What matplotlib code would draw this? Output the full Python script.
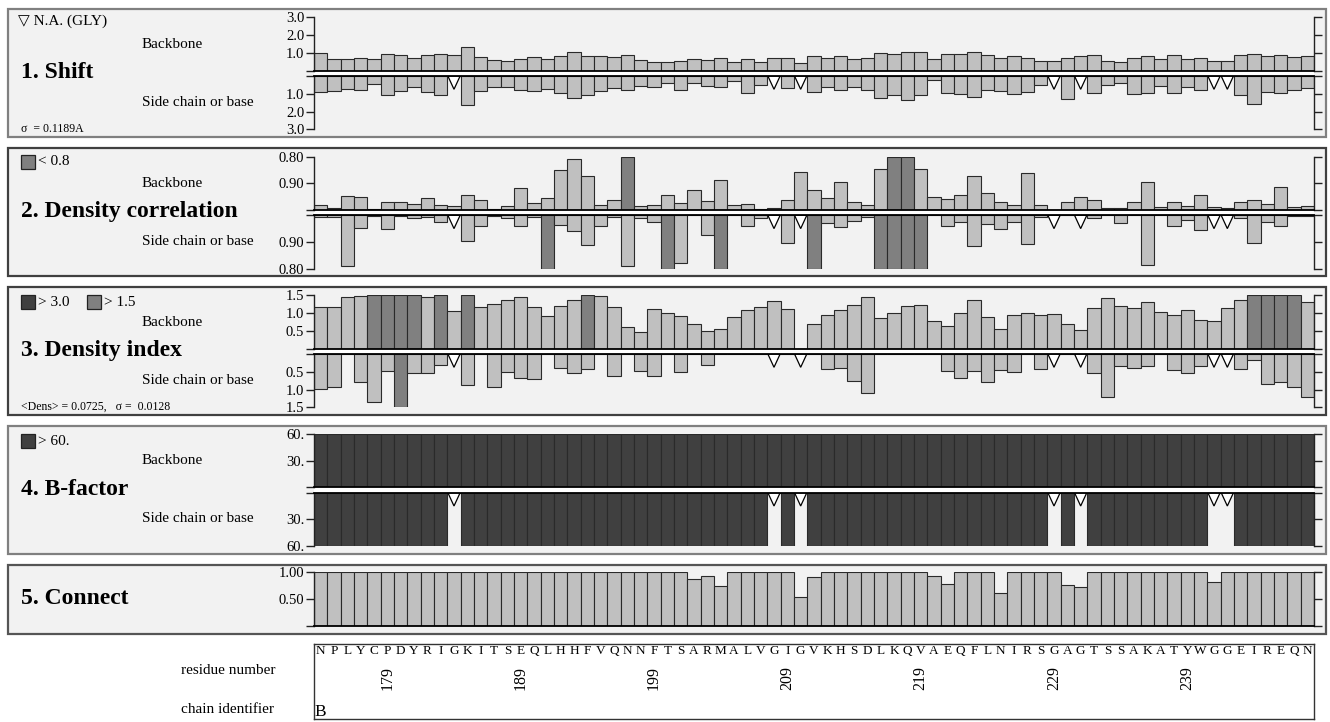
import matplotlib
matplotlib.use("Agg")
import matplotlib.pyplot as plt
from matplotlib.patches import Rectangle, Polygon

# ---------------- data ----------------
residues = list("NPLYCPDYRIGKITSEQLHHFVQNNFTSARMALVGIGVKHSDLKQVAEQFLNIRSGAGTSSAKATYWGGEIREQN")
first_resnum = 174
resnum_labels = [179, 189, 199, 209, 219, 229, 239]
chain_id = "B"

shift_bb = [1.00, 0.67, 0.63, 0.74, 0.67, 0.94, 0.89, 0.70, 0.91, 0.94,
            0.91, 1.31, 0.78, 0.61, 0.54, 0.63, 0.78, 0.65, 0.80, 1.07,
            0.85, 0.80, 0.76, 0.89, 0.61, 0.50, 0.50, 0.57, 0.67, 0.61,
            0.72, 0.50, 0.67, 0.50, 0.74, 0.72, 0.46, 0.80, 0.74, 0.80,
            0.63, 0.72, 1.02, 0.96, 1.07, 1.06, 0.65, 0.93, 0.96, 1.04,
            0.91, 0.74, 0.83, 0.72, 0.54, 0.57, 0.74, 0.85, 0.87, 0.56,
            0.48, 0.69, 0.85, 0.67, 0.87, 0.63, 0.69, 0.56, 0.52, 0.89,
            0.96, 0.80, 0.91, 0.76, 0.85]
shift_sc = [0.91, 0.85, 0.74, 0.81, 0.44, 1.07, 0.83, 0.61, 0.89, 1.07,
            None, 1.61, 0.87, 0.59, 0.63, 0.80, 0.83, 0.72, 0.96, 1.24,
            1.04, 0.83, 0.65, 0.80, 0.54, 0.59, 0.39, 0.80, 0.41, 0.56,
            0.61, 0.30, 0.96, 0.52, None, 0.69, None, 0.91, 0.59, 0.81,
            0.59, 0.80, 1.22, 1.06, 1.35, 1.07, 0.24, 0.94, 1.02, 1.17,
            0.80, 0.87, 1.02, 0.89, 0.50, None, 1.30, None, 0.94, 0.52,
            0.39, 1.02, 0.96, 0.56, 0.96, 0.61, 0.80, None, None, 1.06,
            1.57, 0.91, 0.98, 0.80, 0.69]

dens_corr_bb = [0.980, 0.994, 0.949, 0.953, 0.998, 0.969, 0.971, 0.979, 0.954, 0.982,
                0.986, 0.943, 0.961, 0.998, 0.985, 0.919, 0.975, 0.954, 0.850, 0.810,
                0.873, 0.980, 0.964, 0.760, 0.985, 0.980, 0.945, 0.973, 0.924, 0.966,
                0.889, 0.981, 0.976, 0.996, 0.991, 0.961, 0.859, 0.924, 0.956, 0.894,
                0.971, 0.981, 0.848, 0.770, 0.750, 0.845, 0.953, 0.960, 0.945, 0.871,
                0.938, 0.971, 0.981, 0.863, 0.983, 0.999, 0.969, 0.953, 0.964, 0.994,
                0.993, 0.969, 0.896, 0.990, 0.971, 0.986, 0.945, 0.988, 0.994, 0.971,
                0.964, 0.979, 0.915, 0.989, 0.985]
dens_corr_sc = [0.995, 0.994, 0.810, 0.953, 0.999, 0.949, 0.998, 0.990, 0.994, 0.974,
                None, 0.903, 0.960, 0.999, 0.990, 0.960, 0.994, 0.770, 0.964, 0.940,
                0.888, 0.960, 0.994, 0.809, 0.990, 0.976, 0.760, 0.821, 1.000, 0.928,
                0.780, 1.000, 0.960, 0.990, None, 0.898, None, 0.770, 0.970, 0.955,
                0.977, 0.993, 0.760, 0.750, 0.770, 0.780, 1.000, 0.961, 0.975, 0.886,
                0.969, 0.949, 0.974, 0.891, 0.995, None, 1.000, None, 0.991, 1.000,
                0.971, 1.000, 0.815, 1.000, 0.961, 0.982, 0.946, None, None, 0.990,
                0.895, 0.975, 0.960, 0.997, 0.997]

dens_idx_bb = [1.17, 1.17, 1.45, 1.48, 1.80, 1.90, 1.70, 1.80, 1.44, 1.70,
               1.05, 1.60, 1.16, 1.26, 1.37, 1.46, 1.18, 0.93, 1.19, 1.38,
               1.70, 1.49, 1.18, 0.61, 0.46, 1.12, 1.01, 0.91, 0.69, 0.51,
               0.55, 0.90, 1.10, 1.16, 1.34, 1.12, 0.00, 0.68, 0.96, 1.09,
               1.22, 1.45, 0.85, 0.99, 1.19, 1.24, 0.79, 0.65, 0.99, 1.36,
               0.89, 0.54, 0.94, 1.01, 0.94, 0.98, 0.70, 0.53, 1.15, 1.42,
               1.21, 1.13, 1.32, 1.02, 0.94, 1.10, 0.80, 0.79, 1.13, 1.37,
               1.80, 1.90, 1.70, 1.60, 1.30]
dens_idx_sc = [0.99, 0.93, 0.00, 0.78, 1.36, 0.47, 1.70, 0.53, 0.52, 0.31,
               None, 0.88, 0.00, 0.93, 0.50, 0.67, 0.70, 0.00, 0.40, 0.52,
               0.41, 0.00, 0.61, 0.00, 0.48, 0.61, 0.00, 0.50, 0.00, 0.32,
               0.00, 0.00, 0.00, 0.00, None, 0.00, None, 0.00, 0.43, 0.38,
               0.76, 1.10, 0.00, 0.00, 0.00, 0.00, 0.00, 0.47, 0.67, 0.48,
               0.79, 0.45, 0.50, 0.00, 0.42, None, 0.00, None, 0.53, 1.20,
               0.35, 0.38, 0.35, 0.00, 0.45, 0.54, 0.35, None, None, 0.43,
               0.17, 0.85, 0.79, 0.92, 1.20]

bfac_bb = [80, 80, 80, 80, 80, 80, 80, 80, 80, 80,
           80, 80, 80, 80, 80, 80, 80, 80, 80, 80,
           80, 80, 80, 80, 80, 80, 80, 80, 80, 80,
           80, 80, 80, 80, 80, 80, 80, 80, 80, 80,
           80, 80, 80, 80, 80, 80, 80, 80, 80, 80,
           80, 80, 80, 80, 80, 80, 80, 80, 80, 80,
           80, 80, 80, 80, 80, 80, 80, 80, 80, 80,
           80, 80, 80, 80, 80]
bfac_sc = [80, 80, 80, 80, 80, 80, 80, 80, 80, 80,
           None, 80, 80, 80, 80, 80, 80, 80, 80, 80,
           80, 80, 80, 80, 80, 80, 80, 80, 80, 80,
           80, 80, 80, 80, None, 80, None, 80, 80, 80,
           80, 80, 80, 80, 80, 80, 80, 80, 80, 80,
           80, 80, 80, 80, 80, None, 80, None, 80, 80,
           80, 80, 80, 80, 80, 80, 80, None, None, 80,
           80, 80, 80, 80, 80]

connect = [1.00, 1.00, 1.00, 1.00, 1.00, 1.00, 1.00, 1.00, 1.00, 1.00,
           1.00, 1.00, 1.00, 1.00, 1.00, 1.00, 1.00, 1.00, 1.00, 1.00,
           1.00, 1.00, 1.00, 1.00, 1.00, 1.00, 1.00, 1.00, 0.875, 0.93,
           0.74, 1.00, 1.00, 1.00, 1.00, 1.00, 0.53, 0.91, 1.00, 1.00,
           1.00, 1.00, 1.00, 1.00, 1.00, 1.00, 0.93, 0.79, 1.00, 1.00,
           1.00, 0.62, 1.00, 1.00, 1.00, 1.00, 0.76, 0.72, 1.00, 1.00,
           1.00, 1.00, 1.00, 1.00, 1.00, 1.00, 1.00, 0.81, 1.00, 1.00,
           1.00, 1.00, 1.00, 1.00, 1.00]

# ---------------- styling ----------------
W, H = 1330, 722
SERIF = ["Liberation Serif", "DejaVu Serif"]
SYM = ["Liberation Serif", "DejaVu Sans"]
plt.rcParams["font.family"] = SERIF
LIGHT, MID, DARK = "#c0c0c0", "#808080", "#404040"
BG = "#f2f2f2"
EDGE = "#2a2a2a"

fig = plt.figure(figsize=(W / 100, H / 100), dpi=100)
bg = fig.add_axes([0, 0, 1, 1])
bg.set_xlim(0, W)
bg.set_ylim(H, 0)
bg.axis("off")

X0, X1 = 314, 1314
N = len(residues)
xs = list(range(N))


def px_axes(x0, y0, x1, y1):
    return fig.add_axes([x0 / W, 1 - y1 / H, (x1 - x0) / W, (y1 - y0) / H])


def style_axis(ax, ymax, ticks, labels, invert):
    ax.set_xlim(-0.5, N - 0.5)
    if invert:
        ax.set_ylim(ymax, 0)
    else:
        ax.set_ylim(0, ymax)
    ax.patch.set_alpha(0)
    for s in ("top", "bottom"):
        ax.spines[s].set_visible(False)
    for s in ("left", "right"):
        ax.spines[s].set_color("#222222")
        ax.spines[s].set_linewidth(1.0)
    ax.set_xticks([])
    ax.set_yticks(ticks)
    ax.set_yticklabels(labels)
    ax.tick_params(axis="y", which="both", left=True, right=True, direction="out",
                   length=6, width=1.0, color="#222222", labelsize=10.5, pad=1)
    ax.axhline(0, color="black", lw=1.3, clip_on=False, zorder=5)


def draw_bars(ax, vals, color_fn, height_fn, ymax, invert):
    heights, colors = [], []
    na = []
    for i, v in enumerate(vals):
        if v is None:
            heights.append(0)
            colors.append(LIGHT)
            na.append(i)
        else:
            heights.append(min(height_fn(v), ymax))
            colors.append(color_fn(v))
    ax.bar(xs, heights, width=1.0, color=colors, edgecolor=EDGE, linewidth=0.8, zorder=2)
    th = ymax * 13.3 / 53.4
    for i in na:
        tri = Polygon([(i - 0.46, 0), (i + 0.46, 0), (i, th)], closed=True,
                      facecolor="white", edgecolor="black", lw=0.9, zorder=4)
        ax.add_patch(tri)


def panel_box(top, height, edge):
    bg.add_patch(Rectangle((7.5, top), 1318, height, facecolor=BG, edgecolor=edge, lw=1.6))


def legend_square(x, y, color):
    bg.add_patch(Rectangle((x, y - 7), 14, 14, facecolor=color, edgecolor="#222222", lw=0.9))


tops = [9, 148.3, 287, 425.7, 564.7]

# panel frames
panel_box(tops[0], 128, "#808080")
panel_box(tops[1], 128, "#404040")
panel_box(tops[2], 128, "#404040")
panel_box(tops[3], 128, "#808080")
panel_box(tops[4], 69, "#555555")

# white bands between the two baselines
for t in tops[:4]:
    bg.add_patch(Rectangle((X0, t + 61.7), X1 - X0, 5.3, facecolor="white", edgecolor="none"))


def two_axes(top):
    a1 = px_axes(X0, top + 8.3, X1, top + 61.7)
    a2 = px_axes(X0, top + 67.0, X1, top + 120.4)
    return a1, a2


def side_labels(top, title, leg_dy=13.5):
    bg.text(141.7, top + 35, "Backbone", fontsize=11, va="center", ha="left")
    bg.text(20.7, top + 63.5, title, fontsize=17, fontweight="bold", va="center", ha="left")
    bg.text(141.7, top + 93, "Side chain or base", fontsize=11, va="center", ha="left")


# ---- 1. Shift ----
t = tops[0]
a, b = two_axes(t)
draw_bars(a, shift_bb, lambda v: LIGHT, lambda v: v, 3.0, False)
draw_bars(b, shift_sc, lambda v: LIGHT, lambda v: v, 3.0, True)
style_axis(a, 3.0, [0, 1, 2, 3], ["", "1.0", "2.0", "3.0"], False)
style_axis(b, 3.0, [0, 1, 2, 3], ["", "1.0", "2.0", "3.0"], True)
side_labels(t, "1. Shift")
bg.text(18.3, t + 12.5, "\u25bd N.A. (GLY)", fontsize=11, va="center", ha="left", family=SYM)
bg.text(20.7, t + 120, "\u03c3  = 0.1189A", fontsize=8.5, va="center", ha="left", family=SYM)

# ---- 2. Density correlation ----
t = tops[1]
a, b = two_axes(t)
corr_color = lambda v: MID if v < 0.8 else LIGHT
corr_h = lambda v: 1.0 - v
draw_bars(a, dens_corr_bb, corr_color, corr_h, 0.2, False)
draw_bars(b, dens_corr_sc, corr_color, corr_h, 0.2, True)
style_axis(a, 0.2, [0, 0.1, 0.2], ["", "0.90", "0.80"], False)
style_axis(b, 0.2, [0, 0.1, 0.2], ["", "0.90", "0.80"], True)
side_labels(t, "2. Density correlation")
legend_square(20.7, t + 13.4, MID)
bg.text(38.3, t + 13.4, "< 0.8", fontsize=11, va="center", ha="left")

# ---- 3. Density index ----
t = tops[2]
a, b = two_axes(t)
idx_color = lambda v: DARK if v > 3.0 else (MID if v > 1.5 else LIGHT)
draw_bars(a, dens_idx_bb, idx_color, lambda v: v, 1.5, False)
draw_bars(b, dens_idx_sc, idx_color, lambda v: v, 1.5, True)
style_axis(a, 1.5, [0, 0.5, 1.0, 1.5], ["", "0.5", "1.0", "1.5"], False)
style_axis(b, 1.5, [0, 0.5, 1.0, 1.5], ["", "0.5", "1.0", "1.5"], True)
side_labels(t, "3. Density index")
legend_square(20.7, t + 15, DARK)
bg.text(38.3, t + 15, "> 3.0", fontsize=11, va="center", ha="left")
legend_square(87.3, t + 15, MID)
bg.text(104.3, t + 15, "> 1.5", fontsize=11, va="center", ha="left")
bg.text(20.7, t + 120, "<Dens> = 0.0725,   \u03c3 =  0.0128", fontsize=8.5, va="center",
        ha="left", family=SYM)

# ---- 4. B-factor ----
t = tops[3]
a, b = two_axes(t)
bf_color = lambda v: DARK if v > 60 else LIGHT
draw_bars(a, bfac_bb, bf_color, lambda v: v, 60, False)
draw_bars(b, bfac_sc, bf_color, lambda v: v, 60, True)
style_axis(a, 60, [0, 30, 60], ["", "30.", "60."], False)
style_axis(b, 60, [0, 30, 60], ["", "30.", "60."], True)
side_labels(t, "4. B-factor")
legend_square(20.7, t + 15.6, DARK)
bg.text(38.3, t + 15.6, "> 60.", fontsize=11, va="center", ha="left")

# ---- 5. Connect ----
t = tops[4]
a = px_axes(X0, t + 7.6, X1, t + 61.0)
draw_bars(a, connect, lambda v: LIGHT, lambda v: v, 1.0, False)
style_axis(a, 1.0, [0, 0.5, 1.0], ["", "0.50", "1.00"], False)
bg.text(20.7, t + 33.3, "5. Connect", fontsize=17, fontweight="bold", va="center", ha="left")

# ---- sequence box ----
sq = px_axes(X0, 644, X1, 719)
sq.set_xlim(-0.5, N - 0.5)
sq.set_ylim(75, 0)
sq.set_xticks([])
sq.set_yticks([])
sq.set_facecolor("white")
for s in sq.spines.values():
    s.set_color("#333333")
    s.set_linewidth(1.0)
for i, r in enumerate(residues):
    sq.text(i, 7, r, fontsize=9.5, ha="center", va="center")
for n in resnum_labels:
    sq.text(n - first_resnum, 34, str(n), fontsize=11.5, ha="center", va="center", rotation=90)
sq.text(-0.45, 67.5, chain_id, fontsize=12.5, ha="left", va="center")

bg.text(181, 670, "residue number", fontsize=11, ha="left", va="center")
bg.text(181, 709.5, "chain identifier", fontsize=11, ha="left", va="center")

fig.savefig("out.png", dpi=100, facecolor="white")
